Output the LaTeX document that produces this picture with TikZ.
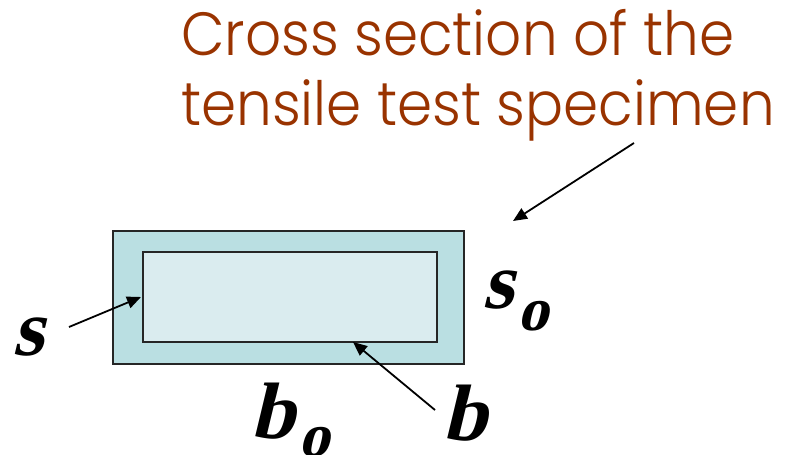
\documentclass[tikz,border=0pt]{standalone}
\usepackage{fontspec}
\setmainfont{Liberation Serif}
\newfontfamily\titlefont{Poppins}[UprightFont={* Light}]
\newfontfamily\dimfont{Liberation Serif}[BoldFeatures={FakeSlant=0.24}]
\usetikzlibrary{arrows.meta,positioning}
\definecolor{rust}{RGB}{153,51,0}
\definecolor{outerteal}{RGB}{186,223,226}
\definecolor{innerteal}{RGB}{218,236,239}
\newcommand{\sub}[2]{\hspace{4pt}\raisebox{-#1pt}{\fontsize{62}{62}\selectfont #2}}
\newcommand{\headtext}[1]{\scalebox{0.925}[1]{#1}}
\tikzset{
  section/.style={draw=black!85,line width=1.4pt,inner sep=0pt},
  outerbox/.style={section,fill=outerteal},
  innerbox/.style={section,fill=innerteal},
  headline/.style={text=rust,font=\titlefont\fontsize{61}{61}\selectfont,inner sep=0pt,anchor=base west},
  dim/.style={font=\dimfont\fontsize{80}{80}\selectfont\bfseries,inner sep=0pt,anchor=base west},
  pointer/.style={-{Triangle[length=14pt,width=12pt]},line width=1.8pt}
}
\begin{document}
\begin{tikzpicture}[x=1pt,y=-1pt]
  \useasboundingbox (0,0) rectangle (785,455);
  % title
  \node[headline] (line1) at (181,55) {\headtext{Cross section of the}};
  \node[headline] (line2) at (181,125) {\headtext{tensile test specimen}};
  % cross section
  \node[outerbox,minimum width=351pt,minimum height=133pt] (outer) at (288.5,297.5) {};
  \node[innerbox,minimum width=294pt,minimum height=90pt] (inner) at (290,297) {};
  % labels
  \node[dim] (s) at (12,355) {s};
  \node[dim] (so) at (482,308) {s\sub{22}{o}};
  \node[dim] (bo) at (250,438) {b\sub{18}{o}};
  \node[dim] (b) at (442,440) {b};
  % arrows
  \coordinate (sTail) at (69,327);
  \coordinate (sTip) at (141,297);
  \coordinate (bTail) at (435,410);
  \coordinate (bTip) at (353,342);
  \coordinate (titleTail) at (634,143);
  \coordinate (titleTip) at (513,221);
  \draw[pointer] (sTail) -- (sTip);
  \draw[pointer] (bTail) -- (bTip);
  \draw[pointer] (titleTail) -- (titleTip);
\end{tikzpicture}
\end{document}
